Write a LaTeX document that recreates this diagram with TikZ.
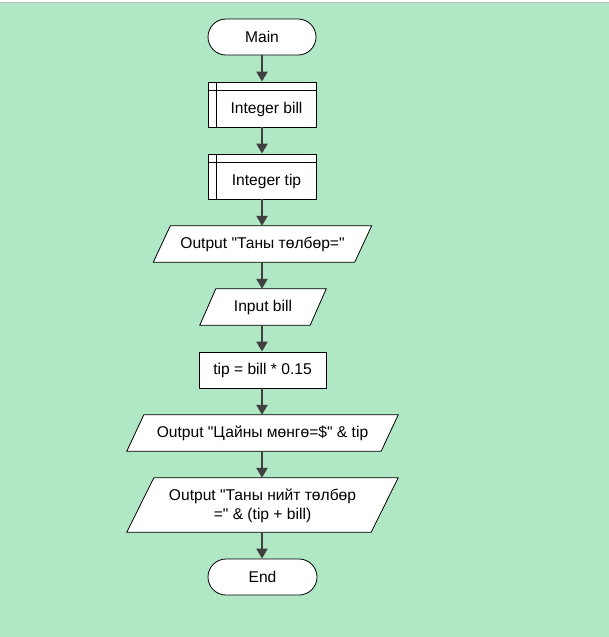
\documentclass[tikz,border=0pt]{standalone}
\usepackage{fontspec}
\setmainfont{Liberation Sans}[Ligatures=TeXOff]
\usetikzlibrary{arrows.meta,calc}
\definecolor{bg}{RGB}{176,231,196}
\definecolor{topline}{RGB}{190,190,190}
\definecolor{arrowc}{RGB}{64,64,64}
\begin{document}
\begin{tikzpicture}[x=1pt,y=-1pt,
  every node/.style={font=\fontsize{15.6}{18.4}\selectfont, inner sep=0pt, align=center},
  term/.style={draw=black, fill=white, line width=0.8pt, rounded corners=18pt, minimum width=108pt, minimum height=36pt},
  decl/.style={draw=black, fill=white, line width=0.8pt, minimum width=108pt, minimum height=45pt},
  proc/.style={draw=black, fill=white, line width=0.8pt, minimum width=127pt, minimum height=36pt},
  iobox/.style={minimum height=36pt},
  shapeline/.style={draw=black, fill=white, line width=0.8pt},
  arr/.style={draw=arrowc, line width=2.2pt, -{Triangle[length=10pt,width=11pt]}}
]
\useasboundingbox (0,0) rectangle (609,637);
\fill[white] (0,0) rectangle (609,3);
\fill[bg] (0,3) rectangle (609,637);
\draw[topline, line width=1.2pt] (0,2.5) -- (609,2.5);

% shapes
\node[term] (main) at (262,37) {Main};
\node[decl] (bill) at (262,104.5) {};
\draw[black, line width=0.8pt] ($(bill.north west)+(0,9)$) -- ($(bill.north east)+(0,9)$);
\draw[black, line width=0.8pt] ($(bill.north west)+(9,0)$) -- ($(bill.south west)+(9,0)$);
\node at ($(bill.center)+(4.5,4.5)$) {Integer bill};

\node[decl] (tip) at (262,176.5) {};
\draw[black, line width=0.8pt] ($(tip.north west)+(0,9)$) -- ($(tip.north east)+(0,9)$);
\draw[black, line width=0.8pt] ($(tip.north west)+(9,0)$) -- ($(tip.south west)+(9,0)$);
\node at ($(tip.center)+(4.5,4.5)$) {Integer tip};

\node[iobox, minimum width=218pt] (o1) at (262.5,244) {};
\draw[shapeline] (o1.south west) -- ($(o1.north west)+(17,0)$) -- (o1.north east) -- ($(o1.south east)+(-17,0)$) -- cycle;
\node at (o1.center) {Output "Таны төлбөр="};

\node[iobox, minimum width=126pt] (in) at (263,307) {};
\draw[shapeline] (in.south west) -- ($(in.north west)+(16,0)$) -- (in.north east) -- ($(in.south east)+(-16,0)$) -- cycle;
\node at (in.center) {Input bill};

\node[proc] (asg) at (262.5,370) {tip = bill * 0.15};

\node[iobox, minimum width=271pt] (o2) at (262.5,433) {};
\draw[shapeline] (o2.south west) -- ($(o2.north west)+(17,0)$) -- (o2.north east) -- ($(o2.south east)+(-17,0)$) -- cycle;
\node at (o2.center) {Output "Цайны мөнгө=\$" \& tip};

\node[minimum height=54pt, minimum width=271pt] (o3) at (262.5,505) {};
\draw[shapeline] (o3.south west) -- ($(o3.north west)+(27,0)$) -- (o3.north east) -- ($(o3.south east)+(-27,0)$) -- cycle;
\node at ($(o3.center)+(0,1)$) {Output "Таны нийт төлбөр\\=" \& (tip + bill)};

\node[term, minimum width=109pt] (end) at (262.5,577) {End};

% connectors
\draw[arr] (main.south) -- (bill.north);
\draw[arr] (bill.south) -- (tip.north);
\draw[arr] (tip.south) -- (tip.south |- o1.north);
\draw[arr] (o1.south -| tip.south) -- (tip.south |- in.north);
\draw[arr] (in.south -| tip.south) -- (tip.south |- asg.north);
\draw[arr] (asg.south -| tip.south) -- (tip.south |- o2.north);
\draw[arr] (o2.south -| tip.south) -- (tip.south |- o3.north);
\draw[arr] (o3.south -| tip.south) -- (tip.south |- end.north);
\end{tikzpicture}
\end{document}
